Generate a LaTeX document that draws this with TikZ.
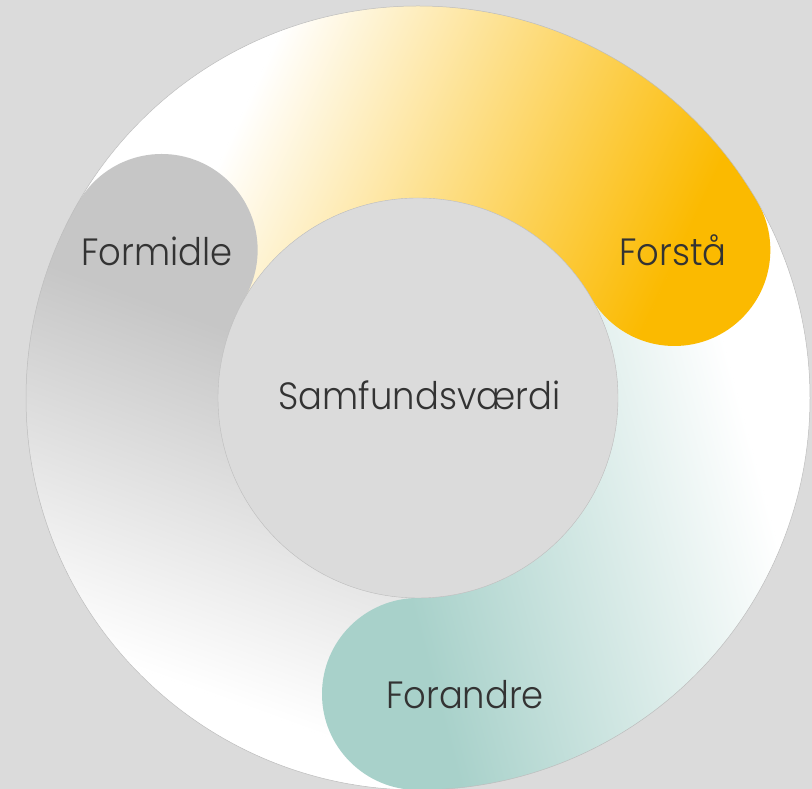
\documentclass[tikz,border=0pt]{standalone}
\usepackage{fontspec}
\IfFontExistsTF{Poppins Light}{\setmainfont{Poppins Light}[FakeStretch=0.93]}{\setmainfont{Poppins}[FakeStretch=0.93]}
\definecolor{bgC}{HTML}{DBDBDB}
\definecolor{orngC}{HTML}{FBBA00}
\definecolor{tealC}{HTML}{A8D1CA}
\definecolor{greyC}{HTML}{C6C6C6}
\definecolor{txtC}{HTML}{333333}
\definecolor{edgeC}{HTML}{BDBDBD}
% #1 angle, #2 t0, #3 t1, #4 colour at t0, #5 colour at t1
\newcommand{\gradfill}[5]{%
  \begin{scope}[transform canvas={rotate around={#1:(418,391)}}]
    \fill[#4, shift={(418,391)}] (-1000,-1000) rectangle (#2+0.5,1000);
    \fill[#5, shift={(418,391)}] (#3-0.5,-1000) rectangle (1000,1000);
    \shade[left color=#4, right color=#5, shift={(418,391)}] (#2,-1000) rectangle (#3,1000);
  \end{scope}}
\tikzset{
  lbl/.style={anchor=base, text=txtC, font=\fontsize{38}{40}\selectfont, inner sep=0pt},
}
\begin{document}
\begin{tikzpicture}[x=1pt,y=1pt]
  \useasboundingbox (0,0) rectangle (812,789);
  \fill[bgC] (0,0) rectangle (812,789);
  % ---- bands ----
  \begin{scope}
    \clip[shift={(418,391)}] (30:392) arc[start angle=30,end angle=150,radius=392]
      -- (150:200) arc[start angle=150,end angle=30,radius=200] -- cycle;
    \gradfill{-25}{-280}{175}{white}{orngC}
  \end{scope}
  \begin{scope}
    \clip[shift={(418,391)}] (-90:392) arc[start angle=-90,end angle=30,radius=392]
      -- (30:200) arc[start angle=30,end angle=-90,radius=200] -- cycle;
    \gradfill{195}{-310}{60}{white}{tealC}
  \end{scope}
  \begin{scope}
    \clip[shift={(418,391)}] (150:392) arc[start angle=150,end angle=270,radius=392]
      -- (270:200) arc[start angle=270,end angle=150,radius=200] -- cycle;
    \gradfill{70}{-350}{0}{white}{greyC}
  \end{scope}
  % ---- end caps ----
  \begin{scope}
    \clip[shift={(418,391)}] (30:296) circle[radius=96];
    \gradfill{-25}{-280}{175}{white}{orngC}
  \end{scope}
  \begin{scope}
    \clip[shift={(418,391)}] (-90:296) circle[radius=96];
    \gradfill{195}{-310}{60}{white}{tealC}
  \end{scope}
  \begin{scope}
    \clip[shift={(418,391)}] (150:296) circle[radius=96];
    \gradfill{70}{-350}{0}{white}{greyC}
  \end{scope}
  % ---- outlines and centre ----
  \draw[edgeC, line width=0.5pt] (418,391) circle[radius=392];
  \node[circle, fill=bgC, draw=edgeC, line width=0.4pt, minimum size=400pt, inner sep=0pt] (core) at (418,391) {};
  % ---- labels ----
  \node[lbl] (samf) at (419.5,379) {Samfundsværdi};
  \node[lbl] (formidle) at (157,523) {Formidle};
  \node[lbl] (forsta) at (673,523) {Forstå};
  \node[lbl] (forandre) at (465,80) {Forandre};
\end{tikzpicture}
\end{document}
